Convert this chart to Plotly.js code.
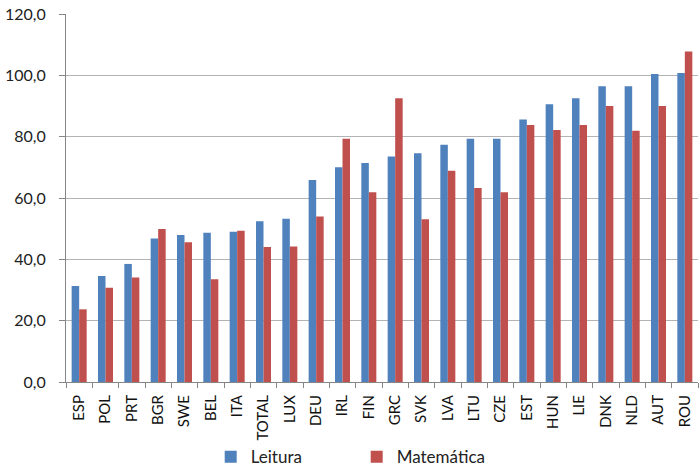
<!DOCTYPE html>
<html>
<head>
<meta charset="utf-8">
<script src="https://cdn.plot.ly/plotly-3.0.1.min.js"></script>
<style>
  html, body { margin: 0; padding: 0; background: #fff; }
  #chart { width: 700px; height: 469px; }
</style>
</head>
<body>
<div id="chart"></div>
<script>
// Country codes along the horizontal axis
const countries = ["ESP", "POL", "PRT", "BGR", "SWE", "BEL", "ITA", "TOTAL", "LUX", "DEU", "IRL", "FIN",
                   "GRC", "SVK", "LVA", "LTU", "CZE", "EST", "HUN", "LIE", "DNK", "NLD", "AUT", "ROU"];

// Reading scores (blue series)
const leitura = [31.3, 34.6, 38.5, 46.8, 47.9, 48.7, 49.0, 52.4, 53.2, 65.9, 70.0, 71.4,
                 73.5, 74.6, 77.4, 79.3, 79.3, 85.6, 90.6, 92.5, 96.4, 96.4, 100.4, 100.8];

// Mathematics scores (red series)
const matematica = [23.7, 30.7, 34.1, 49.9, 45.6, 33.5, 49.3, 44.0, 44.2, 54.0, 79.3, 61.9,
                    92.5, 53.1, 68.9, 63.3, 61.9, 83.8, 82.2, 83.8, 90.0, 81.9, 90.0, 107.8];

const yTicks = [0, 20, 40, 60, 80, 100, 120];

const fontFamily = "Lato, 'Open Sans', 'DejaVu Sans', sans-serif";

const traces = [
  {
    type: "bar",
    name: "Leitura",
    x: countries,
    y: leitura,
    marker: { color: "#4F81BD" },
    hoverinfo: "x+y+name"
  },
  {
    type: "bar",
    name: "Matemática",
    x: countries,
    y: matematica,
    marker: { color: "#C0504D" },
    hoverinfo: "x+y+name"
  }
];

const layout = {
  width: 700,
  height: 469,
  margin: { l: 66, r: 2, t: 14, b: 87 },
  paper_bgcolor: "#ffffff",
  plot_bgcolor: "#ffffff",
  separators: ", ",
  barmode: "group",
  bargap: 0.43,
  bargroupgap: 0,
  font: { family: fontFamily, size: 14, color: "#222222" },
  xaxis: {
    type: "category",
    tickangle: -90,
    showgrid: false,
    showline: true,
    linecolor: "#868686",
    linewidth: 1,
    ticks: "outside",
    tickson: "boundaries",
    ticklen: 5,
    tickcolor: "#868686",
    ticklabelstandoff: 6,
    tickfont: { family: fontFamily, size: 15, color: "#111111" },
    fixedrange: true
  },
  yaxis: {
    range: [0, 120],
    tickvals: yTicks,
    tickformat: ".1f",
    showgrid: true,
    gridcolor: "#b3b3b3",
    gridwidth: 1,
    zeroline: false,
    showline: true,
    linecolor: "#868686",
    linewidth: 1,
    ticks: "outside",
    ticklen: 6,
    tickcolor: "#868686",
    ticklabelstandoff: 10,
    tickfont: { family: fontFamily, size: 16, color: "#222222" },
    fixedrange: true
  },
  showlegend: true,
  legend: {
    orientation: "h",
    xref: "container",
    yref: "container",
    x: 0.301,
    xanchor: "left",
    y: 0.025,
    yanchor: "middle",
    bgcolor: "rgba(0,0,0,0)",
    font: { family: fontFamily, size: 17, color: "#222222" },
    entrywidth: 101,
    traceorder: "normal"
  }
};

Plotly.newPlot("chart", traces, layout, { displayModeBar: false, staticPlot: true });
</script>
</body>
</html>
